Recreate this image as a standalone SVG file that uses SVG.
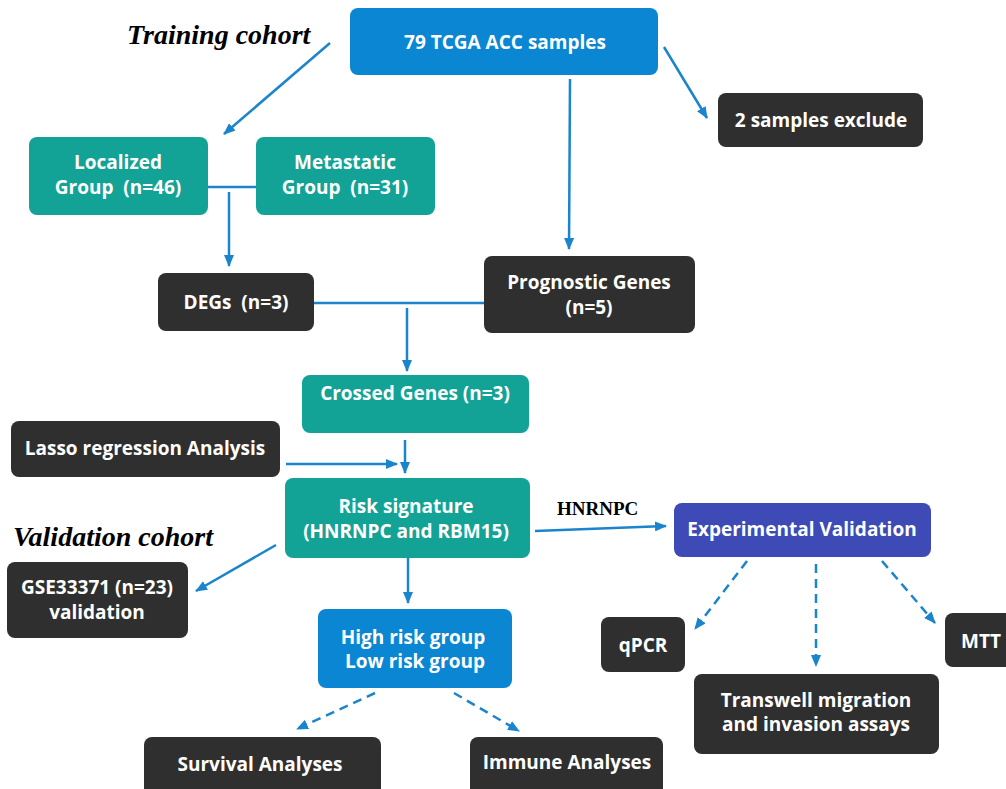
<svg xmlns="http://www.w3.org/2000/svg" width="1006" height="789" viewBox="0 0 1006 789">
<style>
.n text{font-family:"Open Sans","Liberation Sans",sans-serif;font-weight:700;font-size:19px;fill:#ffffff;text-anchor:middle}
.blue{fill:#0a86d2}
.teal{fill:#13a396}
.dark{fill:#2f2f2f}
.purple{fill:#3e4ab6}
.c line,.c path{stroke:#1a84cc;stroke-width:2.5;fill:none}
.d{stroke-dasharray:9,6}
.lab{font-family:"Liberation Serif","Times New Roman",serif;font-weight:700;fill:#000}
</style>
<defs>
<marker id="ah" viewBox="0 0 12 10" refX="11" refY="5" markerWidth="12" markerHeight="10" markerUnits="userSpaceOnUse" orient="auto">
<path d="M0,0 L12,5 L0,10 z" fill="#1a84cc"/>
</marker>
</defs>
<rect width="1006" height="789" fill="#ffffff"/>

<text class="lab" x="127" y="44" font-size="28" font-style="italic">Training cohort</text>
<text class="lab" x="13" y="546" font-size="28" font-style="italic">Validation cohort</text>
<text class="lab" x="557" y="515" font-size="19">HNRNPC</text>

<g class="c">
<line x1="330" y1="43" x2="224" y2="134" marker-end="url(#ah)"/>
<line x1="664" y1="47" x2="707" y2="118" marker-end="url(#ah)"/>
<line x1="570" y1="79" x2="569" y2="249" marker-end="url(#ah)"/>
<line x1="208" y1="187" x2="256" y2="187"/>
<line x1="229" y1="192" x2="229" y2="266" marker-end="url(#ah)"/>
<line x1="314" y1="303" x2="484" y2="303"/>
<line x1="407" y1="308" x2="407" y2="371" marker-end="url(#ah)"/>
<line x1="286" y1="464" x2="397" y2="464" marker-end="url(#ah)"/>
<line x1="405" y1="440" x2="405" y2="473" marker-end="url(#ah)"/>
<line x1="276" y1="545" x2="196" y2="591" marker-end="url(#ah)"/>
<line x1="408" y1="553" x2="408" y2="603" marker-end="url(#ah)"/>
<line x1="535" y1="531" x2="666" y2="526" marker-end="url(#ah)"/>
<line class="d" x1="375" y1="693" x2="297" y2="729" marker-end="url(#ah)"/>
<line class="d" x1="454" y1="693" x2="519" y2="731" marker-end="url(#ah)"/>
<line class="d" x1="747" y1="561" x2="695" y2="629" marker-end="url(#ah)"/>
<line class="d" x1="816" y1="564" x2="816" y2="666" marker-end="url(#ah)"/>
<line class="d" x1="882" y1="561" x2="935" y2="623" marker-end="url(#ah)"/>
</g>

<g id="tcga" class="n"><rect class="blue" x="350" y="8" width="308" height="67" rx="8"/><text x="505" y="49" font-size="21">79 TCGA ACC samples</text></g>
<g id="exclude" class="n"><rect class="dark" x="718" y="93" width="205" height="54" rx="8"/><text x="821" y="127">2 samples exclude</text></g>
<g id="localized" class="n"><rect class="teal" x="29" y="137" width="179" height="78" rx="8"/><text x="118" y="169">Localized</text><text x="118" y="194" xml:space="preserve">Group  (n=46)</text></g>
<g id="metastatic" class="n"><rect class="teal" x="256" y="137" width="179" height="78" rx="8"/><text x="345" y="169">Metastatic</text><text x="345" y="194" xml:space="preserve">Group  (n=31)</text></g>
<g id="degs" class="n"><rect class="dark" x="158" y="273" width="156" height="58" rx="8"/><text x="236" y="309" xml:space="preserve">DEGs  (n=3)</text></g>
<g id="prognostic" class="n"><rect class="dark" x="484" y="256" width="211" height="77" rx="8"/><text x="589" y="289">Prognostic Genes</text><text x="589" y="314">(n=5)</text></g>
<g id="crossed" class="n"><rect class="teal" x="302" y="375" width="227" height="58" rx="8"/><text x="415" y="400">Crossed Genes (n=3)</text></g>
<g id="lasso" class="n"><rect class="dark" x="11" y="421" width="269" height="56" rx="8"/><text x="145" y="455">Lasso regression Analysis</text></g>
<g id="risk" class="n"><rect class="teal" x="285" y="478" width="245" height="80" rx="8"/><text x="406" y="513">Risk signature</text><text x="406" y="538">(HNRNPC and RBM15)</text></g>
<g id="gse" class="n"><rect class="dark" x="7" y="562" width="181" height="76" rx="8"/><text x="97" y="594" font-size="16">GSE33371 (n=23)</text><text x="97" y="619" font-size="16">validation</text></g>
<g id="highlow" class="n"><rect class="blue" x="318" y="609" width="194" height="79" rx="8"/><text x="413" y="644">High risk group</text><text x="415" y="668">Low risk group</text></g>
<g id="experimental" class="n"><rect class="purple" x="674" y="503" width="257" height="54" rx="8"/><text x="802" y="536">Experimental Validation</text></g>
<g id="qpcr" class="n"><rect class="dark" x="601" y="617" width="84" height="55" rx="8"/><text x="643" y="652">qPCR</text></g>
<g id="mtt" class="n"><rect class="dark" x="945" y="613" width="70" height="54" rx="8"/><text x="981" y="648">MTT</text></g>
<g id="transwell" class="n"><rect class="dark" x="694" y="674" width="245" height="80" rx="8"/><text x="816" y="707">Transwell migration</text><text x="816" y="731">and invasion assays</text></g>
<g id="survival" class="n"><rect class="dark" x="144" y="737" width="237" height="62" rx="8"/><text x="260" y="771">Survival Analyses</text></g>
<g id="immune" class="n"><rect class="dark" x="470" y="737" width="193" height="62" rx="8"/><text x="567" y="769">Immune Analyses</text></g>
</svg>
